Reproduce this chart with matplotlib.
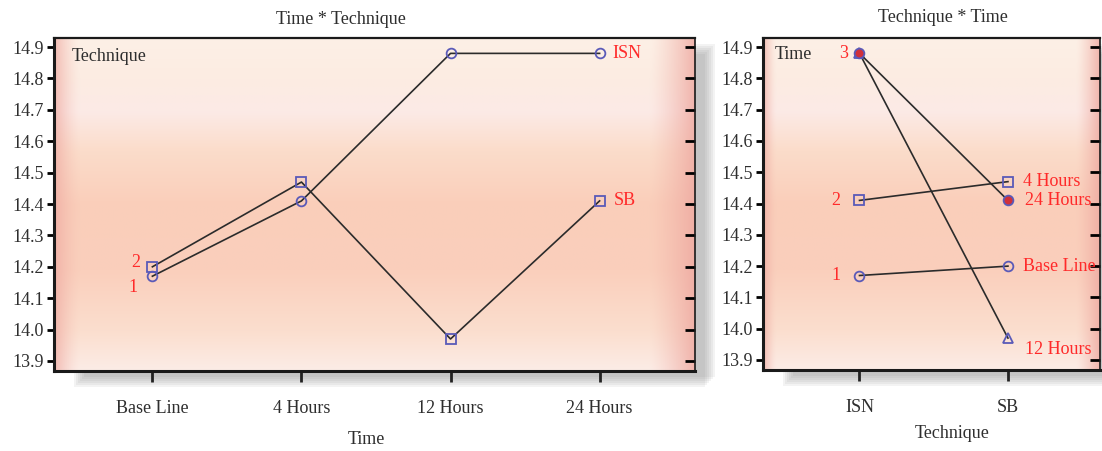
import numpy as np
import matplotlib
matplotlib.use("Agg")
import matplotlib.pyplot as plt
from matplotlib.patches import Rectangle

plt.rcParams['font.family'] = ['Liberation Serif', 'DejaVu Serif']
plt.rcParams['font.size'] = 13

# ---------------- data ----------------
times = ['Base Line', '4 Hours', '12 Hours', '24 Hours']
techniques = ['ISN', 'SB']
isn_means = [14.17, 14.41, 14.88, 14.88]
sb_means = [14.20, 14.47, 13.97, 14.41]
yticks = [13.9, 14.0, 14.1, 14.2, 14.3, 14.4, 14.5, 14.6, 14.7, 14.8, 14.9]

W, H = 1102, 451
fig = plt.figure(figsize=(W / 100, H / 100), dpi=100)

def px(x0, y0, x1, y1):
    return [x0 / W, 1 - y1 / H, (x1 - x0) / W, (y1 - y0) / H]

ax1 = fig.add_axes(px(54, 38, 695, 371))
ax2 = fig.add_axes(px(763, 38, 1100, 370))

LINE = '#2b2b2b'
MK = '#5a5ab8'
RED = '#ff2a2a'
TXT = '#2e2e2e'


def gradient():
    t = np.linspace(0, 1, 200)
    keys = [0.0, 0.12, 0.3, 0.5, 0.66, 0.78, 0.88, 1.0]
    cols = np.array([[252, 236, 230], [251, 222, 206], [250, 207, 188],
                     [250, 206, 186], [251, 220, 202], [252, 234, 230],
                     [252, 236, 226], [253, 240, 230]]) / 255.0
    v = np.stack([np.interp(t, keys, cols[:, i]) for i in range(3)], axis=-1)
    s = np.linspace(0, 1, 300)
    edge = np.array([238, 168, 160]) / 255.0
    w = np.clip(1 - s / 0.04, 0, 1) ** 1.5 * 0.7 + np.clip((s - 0.93) / 0.07, 0, 1) ** 1.3 * 0.8
    img = v[:, None, :] * (1 - w[None, :, None]) + edge[None, None, :] * w[None, :, None]
    return img


def shadow(x0, y0, x1, y1):
    for i in range(6):
        d = i * 2
        r = Rectangle(((x0 + 20 + d) / W, 1 - (y1 + 16 - d) / H),
                      (x1 - x0 - 10) / W, (y1 - y0) / H,
                      transform=fig.transFigure, facecolor='#707070',
                      edgecolor='none', alpha=0.08, zorder=-5)
        fig.patches.append(r)


shadow(54, 38, 695, 371)
shadow(763, 38, 1100, 370)

for ax, n in [(ax1, 4), (ax2, 2)]:
    ax.set_facecolor('none')
    ax.imshow(gradient(), extent=[0, 1, 0, 1], transform=ax.transAxes,
              aspect='auto', origin='lower', zorder=0)
    ax.set_ylim(13.868, 14.929)
    ax.set_yticks(yticks)
    ax.set_yticklabels(['%.1f' % v for v in yticks], color=TXT)
    ax.set_xticks(range(n))
    ax.tick_params(axis='y', length=5, width=2, pad=2, labelsize=13)
    ax.tick_params(axis='x', length=8, width=2, pad=13, labelsize=13, colors=TXT)
    ax.tick_params(axis='x', color='#222222')
    for side, lw in [('left', 2.2), ('bottom', 2.2), ('top', 1.6), ('right', 1.2)]:
        ax.spines[side].set_linewidth(lw)
        ax.spines[side].set_color('#1a1a1a')
    sec = ax.secondary_yaxis('right')
    sec.set_yticks(yticks)
    sec.tick_params(direction='in', length=7, width=2, labelright=False)
    sec.spines['right'].set_visible(False)

# ---------------- left panel ----------------
ax1.set_xlim(-0.66, 3.64)
ax1.set_xticklabels(times)
x1 = np.arange(len(times))
ax1.plot(x1, isn_means, color=LINE, lw=1.2, marker='o', ms=7, mfc='none',
         mec=MK, mew=1.3, zorder=3)
ax1.plot(x1, sb_means, color=LINE, lw=1.2, marker='s', ms=7, mfc='none',
         mec=MK, mew=1.3, zorder=3)
ax1.annotate('ISN', (x1[-1], isn_means[-1]), xytext=(9, 0), textcoords='offset points',
             color=RED, va='center', ha='left', fontsize=13)
ax1.annotate('SB', (x1[-1], sb_means[-1]), xytext=(10, 0), textcoords='offset points',
             color=RED, va='center', ha='left', fontsize=13)
ax1.annotate('1', (x1[0], isn_means[0]), xytext=(-11, -8), textcoords='offset points',
             color=RED, va='center', ha='right', fontsize=13)
ax1.annotate('2', (x1[0], sb_means[0]), xytext=(-9, 3), textcoords='offset points',
             color=RED, va='center', ha='right', fontsize=13)
ax1.text(0.027, 0.945, 'Technique', transform=ax1.transAxes, color=TXT,
         va='center', ha='left', fontsize=13)
ax1.set_xlabel('Time', color=TXT, fontsize=13, va='center')
ax1.xaxis.set_label_coords(0.487, -0.207)
fig.text(341 / W, 1 - 20 / H, 'Time * Technique', ha='center', va='center',
         color=TXT, fontsize=13)

# ---------------- right panel ----------------
ax2.set_xlim(-0.65, 1.62)
ax2.set_xticklabels(techniques)
x2 = np.arange(len(techniques))
markers = ['o', 's', '^', 'o']
fills = ['none', 'none', 'none', '#d0303a']
for i, t in enumerate(times):
    ax2.plot(x2, [isn_means[i], sb_means[i]], color=LINE, lw=1.2,
             marker=markers[i], ms=7, mfc=fills[i], mec=MK, mew=1.3, zorder=3 + i)
right_off = [(11, 0), (11, 0), (12, -8), (12, 0)]
for i, t in enumerate(times):
    ax2.annotate(t, (x2[1], sb_means[i]), xytext=right_off[i], textcoords='offset points',
                 color=RED, va='center', ha='left', fontsize=13)
ax2.annotate('3', (x2[0], isn_means[3]), xytext=(-8, 0), textcoords='offset points',
             color=RED, va='center', ha='right', fontsize=13)
ax2.annotate('2', (x2[0], isn_means[1]), xytext=(-14, 0), textcoords='offset points',
             color=RED, va='center', ha='right', fontsize=13)
ax2.annotate('1', (x2[0], isn_means[0]), xytext=(-14, 0), textcoords='offset points',
             color=RED, va='center', ha='right', fontsize=13)
ax2.text(0.035, 0.95, 'Time', transform=ax2.transAxes, color=TXT,
         va='center', ha='left', fontsize=13)
ax2.set_xlabel('Technique', color=TXT, fontsize=13, va='center')
ax2.xaxis.set_label_coords((952 - 763) / 337, -0.19)
fig.text(943 / W, 1 - 17 / H, 'Technique * Time', ha='center', va='center',
         color=TXT, fontsize=13)

fig.savefig('out.png', dpi=100)
